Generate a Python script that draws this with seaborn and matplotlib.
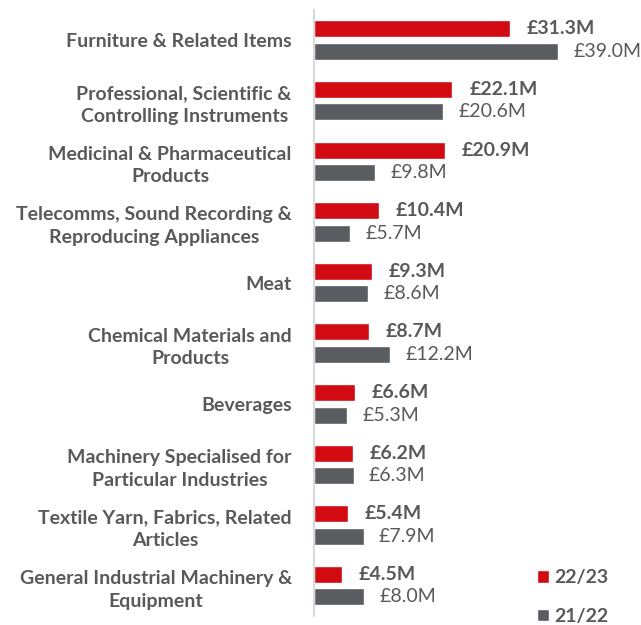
import matplotlib
matplotlib.use("Agg")
import matplotlib.pyplot as plt
import seaborn as sns
import pandas as pd
from matplotlib.patches import Patch

# Data
categories = [
    "Furniture & Related Items",
    "Professional, Scientific &\nControlling Instruments",
    "Medicinal & Pharmaceutical\nProducts",
    "Telecomms, Sound Recording &\nReproducing Appliances",
    "Meat",
    "Chemical Materials and\nProducts",
    "Beverages",
    "Machinery Specialised for\nParticular Industries",
    "Textile Yarn, Fabrics, Related\nArticles",
    "General Industrial Machinery &\nEquipment",
]
values_2223 = [31.3, 22.1, 20.9, 10.4, 9.3, 8.7, 6.6, 6.2, 5.4, 4.5]
values_2122 = [39.0, 20.6, 9.8, 5.7, 8.6, 12.2, 5.3, 6.3, 7.9, 8.0]
years = ["22/23", "21/22"]

RED = "#D20A11"
GREY = "#595C61"
TEXT = "#595959"
FS = 14

df = pd.DataFrame({
    "category": categories * 2,
    "value": values_2223 + values_2122,
    "year": [years[0]] * len(categories) + [years[1]] * len(categories),
})

sns.set_theme(style="white")
plt.rcParams["font.family"] = ["Lato", "DejaVu Sans"]

fig = plt.figure(figsize=(6.41, 6.25), dpi=100)
ax = fig.add_axes([0.49, 0.0144, 0.51, 0.97])

sns.barplot(data=df, y="category", x="value", hue="year", orient="h",
            palette=[RED, GREY], saturation=1, width=0.74, gap=0.24,
            legend=False, ax=ax)

ax.set_xlim(0, 52.2)
ax.set_ylim(len(categories) - 0.5, -0.5)
ax.set_xlabel("")
ax.set_ylabel("")
ax.set_xticks([])

for s in ["top", "right", "bottom"]:
    ax.spines[s].set_visible(False)
ax.spines["left"].set_color("#D9D9D9")
ax.spines["left"].set_linewidth(1.5)

ax.tick_params(axis="y", length=0, pad=16)
for lbl in ax.get_yticklabels():
    lbl.set_fontsize(FS)
    lbl.set_fontweight("bold")
    lbl.set_color(TEXT)
    lbl.set_horizontalalignment("right")
    lbl.set_multialignment("center")
    lbl.set_linespacing(1.4)

ax.bar_label(ax.containers[0], labels=[f"£{v:.1f}M" for v in values_2223],
             padding=12, fontsize=FS, fontweight="bold", color=TEXT)
ax.bar_label(ax.containers[1], labels=[f"£{v:.1f}M" for v in values_2122],
             padding=11, fontsize=FS, color=TEXT)

handles = [Patch(facecolor=RED, label=years[0]), Patch(facecolor=GREY, label=years[1])]
leg = fig.legend(handles=handles, loc="lower right", bbox_to_anchor=(0.962, -0.012),
                 frameon=False, handlelength=0.62, handleheight=0.62, handletextpad=0.3,
                 labelspacing=1.1, borderaxespad=0.0, prop={"weight": "bold", "size": FS})
for t in leg.get_texts():
    t.set_color(TEXT)

fig.savefig("out.png", dpi=100)
